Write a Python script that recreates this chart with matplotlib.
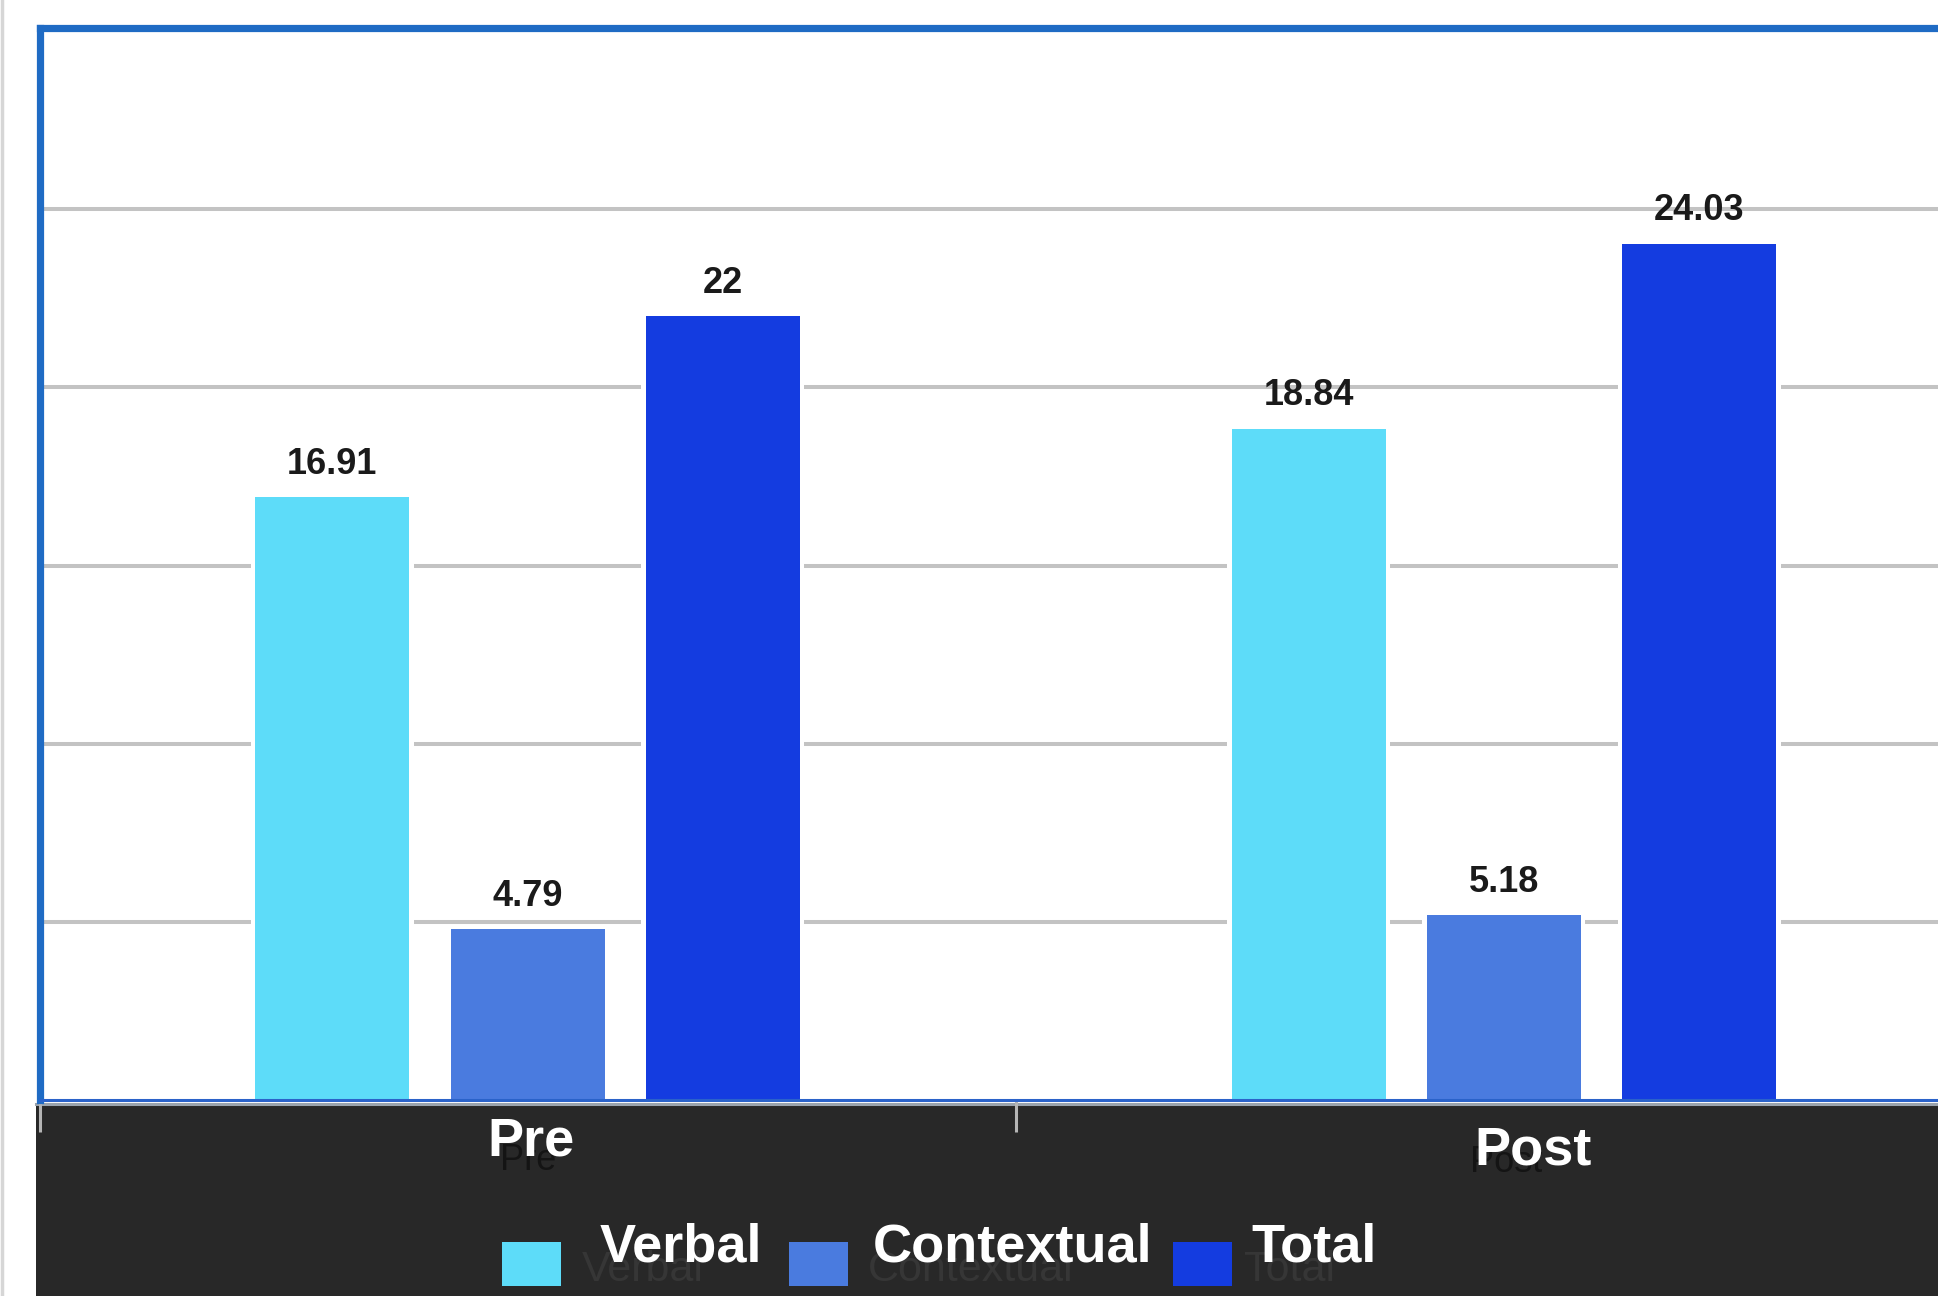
import matplotlib
matplotlib.use("Agg")
import matplotlib.pyplot as plt
from matplotlib.patches import Rectangle
from matplotlib.lines import Line2D
import numpy as np

categories = ["Pre", "Post"]
series_names = ["Verbal", "Contextual", "Total"]
verbal = [16.91, 18.84]
contextual = [4.79, 5.18]
total = [22, 24.03]
values = [verbal, contextual, total]
labels = [["16.91", "18.84"], ["4.79", "5.18"], ["22", "24.03"]]
colors = ["#5ddcf9", "#4a7bdf", "#143ce0"]

W, H = 1938, 1296
DPI = 100
fig = plt.figure(figsize=(W / DPI, H / DPI), dpi=DPI, facecolor="white")

def fx(px):
    return px / W

def fy(py):
    return 1 - py / H

NARROW_B = ["Liberation Sans Narrow", "Liberation Sans", "DejaVu Sans"]
SANS = ["Liberation Sans", "DejaVu Sans"]

# dark footer band
fig.patches.append(Rectangle((fx(36), 0), 1 - fx(36), fy(1105), transform=fig.transFigure,
                             facecolor="#282828", edgecolor="none", zorder=0))
fig.lines.append(Line2D([fx(36), 1], [fy(1103.5), fy(1103.5)], transform=fig.transFigure,
                        color="#9aa3ad", lw=2.2, zorder=1))
fig.lines.append(Line2D([fx(1.5), fx(1.5)], [0, 1], transform=fig.transFigure,
                        color="#d6d6d6", lw=2.5, zorder=1))

left, right = 39.5, 1992.0
top, bottom = 27.5, 1100.0
ax = fig.add_axes([fx(left), fy(bottom), fx(right - left), fy(top) - fy(bottom)])
ax.set_zorder(2)
ax.set_facecolor("white")
ax.set_xlim(-0.5, 1.5)
ax.set_ylim(0, 30.1)

x = np.arange(len(categories))
step = 0.2
width = 0.158
offsets = [-step, 0, step]

ax.set_yticks([5, 10, 15, 20, 25])
ax.yaxis.grid(True, color="#c3c3c3", lw=2.9, zorder=0)
ax.set_axisbelow(True)
ax.tick_params(axis="y", length=0, labelleft=False)

for i, (vals, col) in enumerate(zip(values, colors)):
    ax.bar(x + offsets[i], vals, width=width + 0.009, color="white", zorder=1, linewidth=0)
    ax.bar(x + offsets[i], vals, width=width, color=col, zorder=2, linewidth=0)
    for xi, v, lab in zip(x + offsets[i], vals, labels[i]):
        ax.annotate(lab, (xi, v), xytext=(0, 17), textcoords="offset points",
                    ha="center", va="baseline", fontsize=26, fontweight="bold",
                    family=SANS, color="#1a1a1a", zorder=3)

for side in ["left", "top"]:
    ax.spines[side].set_color("#1f6bc4")
    ax.spines[side].set_linewidth(5.2)
ax.spines["bottom"].set_color("#2a62c9")
ax.spines["bottom"].set_linewidth(2.2)
ax.spines["right"].set_visible(False)

ax.set_xticks([-0.5, 0.5, 1.5])
ax.tick_params(axis="x", direction="out", length=23, width=2.2, color="#b5b5b5",
               labelbottom=False, pad=0)

# category labels (white with dark ghost)
cat_dx = [0.003, 0.030]
cat_y = [-0.0522, -0.0606]
ghost_dx = [0.001, 0.002]
ghost_y = [-0.0653, -0.0671]
trans = ax.get_xaxis_transform()
for xi, cat, dx, yy, gdx, gy in zip(x, categories, cat_dx, cat_y, ghost_dx, ghost_y):
    ax.text(xi + gdx, gy, cat, transform=trans, ha="center", va="baseline",
            fontsize=26, family=NARROW_B, color="#141414", clip_on=False, zorder=4)
    ax.text(xi + dx, yy, cat, transform=trans, ha="center", va="baseline",
            fontsize=39, fontweight="bold", family=NARROW_B, color="white",
            clip_on=False, zorder=5)

# legend (manual)
sq_x = [502, 789, 1173]
txt_x = [600, 873, 1251]
ghost_x = [582, 868, 1244]
for name, col, sx, tx, gx in zip(series_names, colors, sq_x, txt_x, ghost_x):
    fig.patches.append(Rectangle((fx(sx), fy(1286)), fx(59), fy(1242) - fy(1286),
                                 transform=fig.transFigure, facecolor=col,
                                 edgecolor="none", zorder=3))
    fig.text(fx(gx), fy(1281), name, ha="left", va="baseline", fontsize=31,
             family=NARROW_B, color="#363636", zorder=3)
    fig.text(fx(tx), fy(1262), name, ha="left", va="baseline", fontsize=39,
             fontweight="bold", family=NARROW_B, color="white", zorder=4)

fig.savefig("out.png", dpi=DPI, facecolor="white")
